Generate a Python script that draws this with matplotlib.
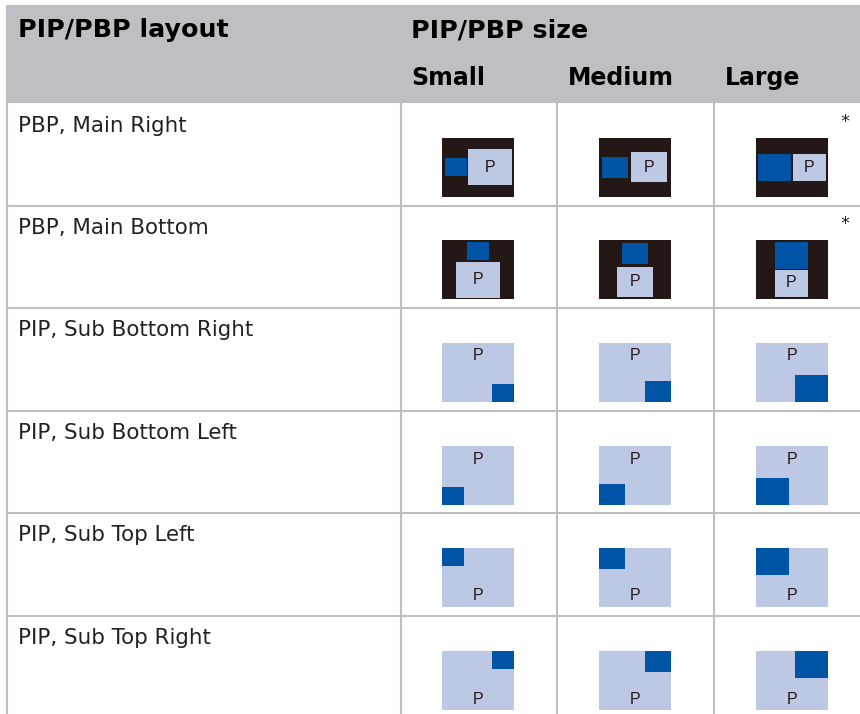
import matplotlib.pyplot as plt
from matplotlib.patches import Rectangle

# texte des lignes / colonnes
layouts = ["PBP, Main Right", "PBP, Main Bottom", "PIP, Sub Bottom Right",
           "PIP, Sub Bottom Left", "PIP, Sub Top Left", "PIP, Sub Top Right"]
sizes = ["Small", "Medium", "Large"]
kinds = ["right", "bottom", "br", "bl", "tl", "tr"]

# taille de la fenetre bleue (sub) en pixels
sub_w = [22, 26, 33]
sub_h = [18, 21, 27]
# taille de la fenetre principale en mode PBP
main_w = [44, 36, 33]
main_h = [36, 30, 27]

HEAD = "#BEBFC3"
DARK = "#231815"
BLUE = "#0054A6"
LIGHT = "#BDC8E5"

row_top = [103, 205, 307, 410, 512, 615]
thumb_top = [138, 240, 343, 446, 548, 651]
col_left = [400, 556, 713]
thumb_left = [442, 599, 756]
THUMB_W, THUMB_H = 72, 59

plt.rcParams['font.family'] = 'DejaVu Sans'
fig = plt.figure(figsize=(8.6, 7.14), dpi=100)
ax = fig.add_axes([0, 0, 1, 1])
ax.set_xlim(0, 860)
ax.set_ylim(714, 0)
ax.axis('off')


def box(x, y, w, h, color, z=2):
    ax.add_patch(Rectangle((x, y), w, h, facecolor=color, edgecolor='none', zorder=z))


def letter(x, y):
    ax.text(x, y, "P", fontsize=11.5, family='Liberation Sans', color=DARK,
            ha='center', va='center', zorder=4)


# en-tete
box(6, 5, 854, 98, HEAD)
ax.text(18, 30, "PIP/PBP layout", fontsize=18.3, fontweight='bold', va='center', color='black')
ax.text(411, 30, "PIP/PBP size", fontsize=18.3, fontweight='bold', va='center', color='black')
for s, x in zip(sizes, [411, 568, 725]):
    ax.text(x, 78, s, fontsize=17, fontweight='bold', va='center', color='black')

# grille
for y in row_top[1:]:
    ax.plot([6, 860], [y + 0.5, y + 0.5], color=HEAD, lw=1.5, solid_capstyle='butt', zorder=1)
for x in [6] + col_left:
    ax.plot([x + 0.5, x + 0.5], [103, 714], color=HEAD, lw=1.5, solid_capstyle='butt', zorder=1)

for r, name in enumerate(layouts):
    ax.text(18, row_top[r] + 23, name, fontsize=15.4, va='center', color='#222222')
    t = thumb_top[r]
    kind = kinds[r]
    for c in range(3):
        x = thumb_left[c]
        sw, sh = sub_w[c], sub_h[c]
        mw, mh = main_w[c], main_h[c]
        if kind == "right":
            box(x, t, THUMB_W, THUMB_H, DARK)
            gap = [1, 3, 2][c]
            mx = x + [26, 32, 37][c]
            my = t + [11, 14, 16][c]
            box(mx, my, mw, mh, LIGHT, 3)
            box(mx - gap - sw, t + [20, 19, 16][c], sw, sh, BLUE, 3)
            letter(mx + mw / 2, t + 30)
        elif kind == "bottom":
            box(x, t, THUMB_W, THUMB_H, DARK)
            my = t + [22, 27, 30][c]
            mx = x + (THUMB_W - mw) / 2 - (0.5 if c == 2 else 0)
            box(mx, my, mw, mh, LIGHT, 3)
            box(mx + (mw - sw) / 2, my - [2, 3, 1][c] - sh, sw, sh, BLUE, 3)
            letter(mx + mw / 2, my + mh / 2 - 1)
        else:
            box(x, t, THUMB_W, THUMB_H, LIGHT)
            sx = x + THUMB_W - sw if kind in ("br", "tr") else x
            sy = t + THUMB_H - sh if kind in ("br", "bl") else t
            box(sx, sy, sw, sh, BLUE, 3)
            letter(x + 36, t + 13 if kind in ("br", "bl") else t + 48)

# asterisques des deux premieres lignes
for y in [row_top[0] + 19, row_top[1] + 19]:
    ax.text(845, y, "*", fontsize=13, ha='center', va='center', color='#222222')

fig.savefig("out.png", dpi=100)
